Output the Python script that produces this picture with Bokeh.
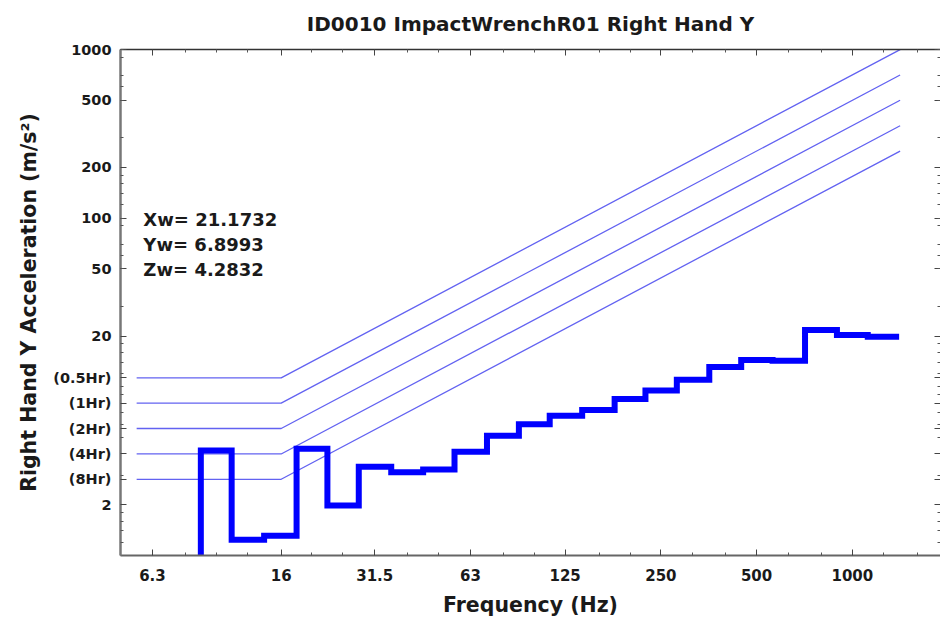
import math
from bokeh.plotting import figure
from bokeh.models import FixedTicker, LogAxis, Label, Range1d, CustomJSTickFormatter
from bokeh.embed import file_html
from bokeh.resources import INLINE

# ---------------- data ----------------
title_text = "ID0010 ImpactWrenchR01 Right Hand Y"
x_label = "Frequency (Hz)"
y_label = "Right Hand Y Acceleration (m/s²)"

# one-third octave band centres (Hz) and measured band acceleration (m/s^2)
band_centres = [8, 10, 12.5, 16, 20, 25, 31.5, 40, 50, 63, 80, 100, 125, 160,
                200, 250, 315, 400, 500, 630, 800, 1000, 1250]
band_values = [0.5, 4.2, 1.24, 1.31, 4.3, 1.98, 3.36, 3.12, 3.24, 4.12, 5.13, 6.01,
               6.74, 7.28, 8.46, 9.5, 11.0, 13.1, 14.4, 14.3, 21.7, 20.3, 19.8]

# exposure limit curves
limit_names = ["(0.5Hr)", "(1Hr)", "(2Hr)", "(4Hr)", "(8Hr)"]
limit_levels = [11.31, 8.0, 5.66, 4.0, 2.83]
limit_f_start = 5.62
limit_f_knee = 16
limit_f_end = 1413

# weighted values
stat_names = ["Xw", "Yw", "Zw"]
stat_values = [21.1732, 6.8993, 4.2832]

# ticks
x_ticks = [6.3, 16, 31.5, 63, 125, 250, 500, 1000]
x_tick_labels = ["6.3", "16", "31.5", "63", "125", "250", "500", "1000"]
x_minor = [5, 8, 10, 12.5, 20, 25, 40, 50, 80, 100, 160, 200, 315, 400, 630,
           800, 1250, 1600]
y_plain_ticks = [2, 20, 50, 100, 200, 500, 1000]
y_plain_labels = ["2", "20", "50", "100", "200", "500", "1000"]

# ---------------- derived ----------------
y_ticks = y_plain_ticks + limit_levels
y_tick_labels = y_plain_labels + limit_names

y_minor = []
for dec in [1, 10, 100]:
    for m in [1.2, 1.4, 1.6, 1.8, 3, 5, 6, 7, 9, 10]:
        y_minor.append(m * dec)

FONT = "DejaVu Sans"
TXT = "#1a1a1a"

p = figure(width=940, height=620, x_axis_type="log", y_axis_type="log",
           x_range=Range1d(5.0, 1893), y_range=Range1d(1.0, 1000),
           output_backend="svg", toolbar_location=None,
           min_border_left=120, min_border_right=0, min_border_top=48,
           min_border_bottom=65)
p.outline_line_color = None
p.xgrid.visible = False
p.ygrid.visible = False
p.background_fill_color = "white"
p.border_fill_color = "white"

p.title.text = title_text
p.title.align = "center"
p.title.vertical_align = "top"
p.title.text_font = FONT
p.title.text_font_style = "bold"
p.title.text_font_size = "20px"
p.title.text_color = TXT
p.title.standoff = 23

fmt_js = """
for (let i = 0; i < vals.length; i++) {
  if (Math.abs(vals[i] - tick) < 1e-6 * Math.max(1, Math.abs(tick))) return labs[i];
}
return "";
"""
xfmt = CustomJSTickFormatter(args=dict(vals=x_ticks, labs=x_tick_labels), code=fmt_js)
yfmt = CustomJSTickFormatter(args=dict(vals=y_ticks, labs=y_tick_labels), code=fmt_js)
blank = CustomJSTickFormatter(code="return '';")


def style_axis(ax, line_color="#555555", line_width=1.5):
    ax.axis_line_color = line_color
    ax.axis_line_width = line_width
    ax.major_tick_in = 6
    ax.major_tick_out = 0
    ax.minor_tick_in = 3
    ax.minor_tick_out = 0
    ax.major_tick_line_color = "#444444"
    ax.minor_tick_line_color = "#555555"


xax = p.xaxis[0]
xax.ticker = FixedTicker(ticks=x_ticks, minor_ticks=x_minor)
xax.formatter = xfmt
style_axis(xax, "#666666", 2)
xax.major_label_text_font = FONT
xax.major_label_text_font_style = "bold"
xax.major_label_text_font_size = "15px"
xax.major_label_text_color = TXT
xax.major_label_standoff = 13
xax.axis_label = x_label
xax.axis_label_text_font = FONT
xax.axis_label_text_font_style = "bold"
xax.axis_label_text_font_size = "20.5px"
xax.axis_label_text_color = TXT
xax.axis_label_standoff = 9

yax = p.yaxis[0]
yax.ticker = FixedTicker(ticks=y_ticks, minor_ticks=y_minor)
yax.formatter = yfmt
style_axis(yax, "#777777", 2.5)
yax.major_label_text_font = FONT
yax.major_label_text_font_style = "bold"
yax.major_label_text_font_size = "14.5px"
yax.major_label_text_color = TXT
yax.major_label_standoff = 9
yax.axis_label = y_label
yax.axis_label_text_font = FONT
yax.axis_label_text_font_style = "bold"
yax.axis_label_text_font_size = "20.5px"
yax.axis_label_text_color = TXT
yax.axis_label_standoff = 9

top = LogAxis(ticker=FixedTicker(ticks=x_ticks, minor_ticks=x_minor), formatter=blank)
style_axis(top, "#333333", 1.5)
top.major_label_text_font_size = "0px"
top.major_label_standoff = 0
p.add_layout(top, "above")

right = LogAxis(ticker=FixedTicker(ticks=y_ticks, minor_ticks=y_minor), formatter=blank)
style_axis(right, None, 1)
right.major_label_text_font_size = "0px"
right.major_label_standoff = 0
p.add_layout(right, "right")

# ---------------- limit curves ----------------
lim_xs, lim_ys = [], []
for lvl in limit_levels:
    lim_xs.append([limit_f_start, limit_f_knee, limit_f_end])
    lim_ys.append([lvl, lvl, lvl * limit_f_end / limit_f_knee])
p.multi_line(lim_xs, lim_ys, line_color="#5a5af0", line_width=1.3, line_alpha=0.95)

# ---------------- measured band spectrum (step) ----------------
r6 = 2 ** (1 / 6)
edges = [band_centres[0] / r6]
for a, b in zip(band_centres[:-1], band_centres[1:]):
    edges.append(math.sqrt(a * b))
edges.append(band_centres[-1] * r6)
sx, sy = [], []
for i, v in enumerate(band_values):
    sx += [edges[i], edges[i + 1]]
    sy += [v, v]
p.line(sx, sy, line_color="#0000ff", line_width=6, line_join="miter")

# ---------------- weighted values text ----------------
for i, (n, v) in enumerate(zip(stat_names, stat_values)):
    p.add_layout(Label(x=5.9, y=98.6, y_offset=-25 * i, text=f"{n}= {v:.4f}",
                       text_font=FONT, text_font_style="bold", text_font_size="18px",
                       text_color=TXT, text_baseline="middle", text_align="left"))

open("out.html", "w").write(file_html(p, INLINE))
